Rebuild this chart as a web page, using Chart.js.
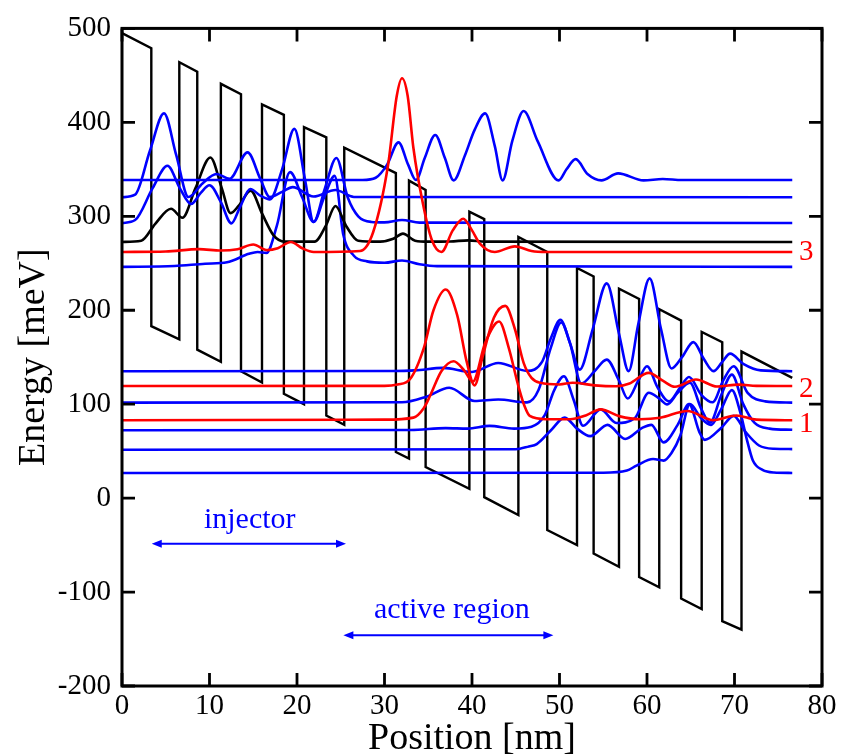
<!DOCTYPE html>
<html>
<head>
<meta charset="utf-8">
<title>Band diagram</title>
<script src="https://cdn.jsdelivr.net/npm/chart.js@4.4.0/dist/chart.umd.min.js"></script>
<style>
  html, body { margin: 0; padding: 0; background: #fff; }
  #wrap { width: 841px; height: 756px; }
</style>
</head>
<body>
<div id="wrap"><canvas id="bandChart" width="841" height="756"></canvas></div>
<script>
// ---- values (x: position in nm, y: energy in meV) ----
const xTicks = [0, 10, 20, 30, 40, 50, 60, 70, 80];
const yTicks = [-200, -100, 0, 100, 200, 300, 400, 500];

// conduction band edge
const bandX = [0, 3.35, 3.35, 6.55, 6.55, 8.6, 8.6, 11.3, 11.3, 13.6, 13.6, 16.0, 16.0, 18.5, 18.5, 20.8, 20.8, 23.35, 23.35, 25.4,
  25.4, 31.3, 31.3, 32.8, 32.8, 34.7, 34.7, 39.7, 39.7, 41.4, 41.4, 45.3, 45.3, 48.6, 48.6, 52.0, 52.0, 53.9, 53.9, 56.8,
  56.8, 59.1, 59.1, 61.4, 61.4, 63.9, 63.9, 66.25, 66.25, 68.6, 68.6, 70.8, 70.8, 76.6];
const bandE = [495, 479, 183, 169, 464, 454, 158, 145, 441, 430, 135, 123, 419, 408, 111, 100, 395, 384, 88, 78,
  373, 346, 49, 42, 338, 328, 33, 10, 305, 297, 1, -18, 278, 262, -34, -50, 245, 236, -59, -73,
  223, 212, -84, -95, 201, 189, -107, -118, 177, 166, -131, -140, 156, 128];

// |psi|^2 curves drawn on top of their level, [x, E]
const stateA = [[0,338.6],[27.5,338.6],[29,341],[30.3,355],[31.6,378.7],[32.7,355],[33.6,338.6],[34.6,362],[35.8,386.6],[36.9,362],
  [37.9,338.2],[39.2,365],[40.3,392],[41.5,409.5],[42.6,375],[43.5,338.2],[44.6,380],[45.9,412],[47.5,380],[49.9,338.2],
  [50.8,350],[51.85,360.8],[53.2,345],[54.8,338.2],[56.7,345.7],[59.6,338.2],[61.8,339.7],[64,338.6],[76.6,338.6]];
const stateB = [[0,320.3],[1.5,323],[3.2,370],[4.8,409.5],[6.2,365],[7.6,320.5],[9.2,335],[10.8,345],[12.3,340],[14.35,368],
  [15.8,340],[16.9,320.5],[18.3,326],[19.5,331],[21.9,321],[24.4,328],[26.5,320.6],[76.6,320.3]];
const stateC = [[0,292.8],[1.5,296],[3.5,330],[5.2,353.8],[6.6,330],[7.9,313],[9.0,325],[10.0,333],[11.3,315],[12.5,292.5],
  [13.5,310],[14.66,329],[15.8,322],[16.9,318],[18.3,350],[19.7,393],[20.9,340],[21.9,294],[23.2,330],[24.5,362],
  [25.8,320],[27,300],[28.5,294],[30,293.5],[32,296],[34,293.3],[76.6,292.8]];
const stateD = [[0,272.7],[2.2,274],[3.8,292],[5.6,308],[6.9,298.4],[8.4,330],[10.1,362.6],[11.4,330],[12.4,303.4],[13.4,312],
  [14.7,327.3],[16.0,303],[17.3,280],[18.6,273],[22,273],[23.3,290],[24.4,311],[25.6,290],[27,274],[29.5,273],
  [31,276],[32.1,281.5],[33.5,274],[35,273],[37.5,273.2],[39.6,274.4],[41.5,273],[76.6,272.7]];
const level3 = [[0,262],[5,262.5],[8.8,265],[11.3,263.5],[13.2,265],[15.0,270],[16.6,264],[17.8,266],[19.3,272.7],[20.6,266],
  [21.9,262],[27.2,263],[28.7,283],[30.4,354],[31.4,428],[32.0,447],[32.65,428],[33.3,373],[34.4,313],[35.4,275],
  [36.5,262],[37.8,285],[39.0,297.4],[40.0,285],[40.9,271],[42.6,262],[44.9,268],[46.8,263],[48.5,262],[76.6,262]];
const stateE = [[0,246.2],[6,247],[9.5,249.5],[12,251],[14.5,260],[15.5,262],[16.5,261],[17.7,290],[19.2,347],[20.6,320],
  [21.9,294],[23.1,320],[24.3,343],[25.3,280],[26.5,258],[28,252],[30,250.5],[32,253],[34,249],[36,247],[76.6,246.2]];
const stateF = [[0,135.1],[31,135.3],[33.5,136],[36.7,138.6],[40.0,134.3],[43.0,143.9],[46.3,135.4],[48.0,145],[49.0,170],[50.1,189.7],
  [51.2,165],[52.3,136.8],[53.8,180],[55.4,228.6],[56.8,175],[57.9,135.2],[59.0,185],[60.3,233.9],[61.6,180],[62.8,138],
  [64.0,150],[65.3,166.1],[66.5,148],[67.6,135.2],[68.6,145],[69.5,153.8],[71.0,143],[73,136],[76.6,135.1]];
const level2 = [[0,119.3],[30,119.5],[31.5,121],[32.9,126.5],[34.5,160],[35.6,200],[37.0,222],[38.3,195],[39.4,145],[40.3,120],
  [41.2,150],[42.5,192],[43.8,204.6],[44.9,180],[45.9,144],[46.8,128],[47.8,122.7],[50,121],[51.5,122.8],[54,120],
  [56.5,119],[58,122],[60.2,133.3],[61.8,125],[63.2,118.5],[65.6,126.2],[68,118.8],[70.5,120.8],[72.5,119.5],[76.6,119.3]];
const stateG = [[0,101.6],[32,102],[34.8,108],[37.4,117.5],[40.3,103.4],[43,105],[46.3,101.9],[47.6,115],[49.0,160],[50.2,187],
  [51.2,165],[52.5,122],[54,135],[55.4,147.4],[56.8,125],[57.8,106],[59.0,125],[60.0,140.4],[61.2,118],[62.5,103],
  [63.8,118],[64.8,129],[66.2,110],[67.5,102],[68.7,125],[69.9,140.4],[71.5,112],[73.5,103],[76.6,101.6]];
const level1 = [[0,82.9],[30,83.5],[33.3,85.7],[34.5,96],[35.2,108.7],[36.5,135],[37.9,145.7],[39.1,136],[40.1,124],[41.5,165],
  [43.1,188],[44.2,160],[45.3,119.3],[46.0,98],[46.6,87.5],[48.5,84],[51.2,83.9],[53,88],[54.7,94.5],[56.9,87],
  [59.2,84],[61.5,85.5],[64.6,92.8],[67.6,83],[70.2,88],[72.5,83.5],[76.6,82.9]];
const stateH = [[0,72.3],[33,72.5],[37,74.5],[39.5,74],[42,76.9],[44.8,74],[46.8,76],[48.3,88],[49.4,115],[50.5,129.8],
  [51.6,105],[52.7,77],[54.7,94.5],[56.5,80],[58.6,85],[60.2,112.2],[61.4,106],[62.3,99.8],[63.5,112],[64.9,122.8],
  [66.2,95],[67.2,80.4],[68.5,110],[69.7,131.5],[71.0,100],[72.3,80],[74,74],[76.6,72.7]];
const stateI = [[0,51.5],[45,52],[46.5,55],[47.4,57.5],[49.0,72],[50.6,85.7],[52.0,74],[53.5,66],[55.5,78],[57.5,63],
  [59.5,75],[60.5,78],[61.9,59.3],[63.5,78],[64.8,100],[66.0,70],[66.6,62],[68.5,75],[69.9,87.5],[71.3,70],
  [72.8,56],[74.5,52.5],[76.6,52.2]];
const stateJ = [[0,26.8],[55,27],[57.7,29.3],[58.8,34.6],[60.7,41.6],[61.9,39.9],[62.8,48],[63.8,66.3],[64.9,100],[66.2,85],
  [67.3,78],[68.5,95],[69.7,115],[70.7,90],[71.4,62.8],[72.1,40],[73.2,30],[74.5,27.2],[76.6,26.8]];

const BLUE = '#0000ff', RED = '#ff0000', BLACK = '#000000';
const SERIF = '"Liberation Serif", "Times New Roman", serif';

function pts(pairs) {
  return pairs.map(p => ({ x: p[0], y: p[1] }));
}

function curve(pairs, color) {
  return {
    data: pts(pairs),
    showLine: true,
    borderColor: color,
    borderWidth: 2.6,
    pointRadius: 0,
    fill: false,
    cubicInterpolationMode: 'monotone'
  };
}

const bandData = bandX.map((x, i) => ({ x: x, y: bandE[i] }));

const datasets = [
  curve(level3, RED), curve(level2, RED), curve(level1, RED),
  curve(stateA, BLUE), curve(stateB, BLUE), curve(stateC, BLUE), curve(stateD, BLACK),
  curve(stateE, BLUE), curve(stateF, BLUE), curve(stateG, BLUE), curve(stateH, BLUE),
  curve(stateI, BLUE), curve(stateJ, BLUE),
  { data: bandData, showLine: true, borderColor: BLACK, borderWidth: 2.4, pointRadius: 0, fill: false, tension: 0 }
];

// Frame, inward ticks, titles and labels
const decorations = {
  id: 'decorations',
  afterDraw(chart) {
    const { ctx, chartArea: a, scales: { x, y } } = chart;
    ctx.save();

    ctx.strokeStyle = BLACK;
    ctx.lineWidth = 2.8;
    const tl = 13;
    xTicks.forEach(v => {
      const px = x.getPixelForValue(v);
      ctx.beginPath();
      ctx.moveTo(px, a.bottom); ctx.lineTo(px, a.bottom - tl);
      ctx.moveTo(px, a.top); ctx.lineTo(px, a.top + tl);
      ctx.stroke();
    });
    yTicks.forEach(v => {
      const py = y.getPixelForValue(v);
      ctx.beginPath();
      ctx.moveTo(a.left, py); ctx.lineTo(a.left + tl, py);
      ctx.moveTo(a.right, py); ctx.lineTo(a.right - tl, py);
      ctx.stroke();
    });
    ctx.lineWidth = 3;
    ctx.strokeRect(a.left, a.top, a.right - a.left, a.bottom - a.top);

    // axis titles
    ctx.fillStyle = BLACK;
    ctx.font = '38px ' + SERIF;
    ctx.textAlign = 'center';
    ctx.textBaseline = 'alphabetic';
    ctx.fillText('Position [nm]', (a.left + a.right) / 2, 749);
    ctx.save();
    ctx.translate(44, (a.top + a.bottom) / 2);
    ctx.rotate(-Math.PI / 2);
    ctx.fillText('Energy [meV]', 0, 0);
    ctx.restore();

    // level labels
    ctx.fillStyle = RED;
    ctx.font = '29px ' + SERIF;
    ctx.textBaseline = 'middle';
    ctx.fillText('3', x.getPixelForValue(78.2), y.getPixelForValue(262));
    ctx.fillText('2', x.getPixelForValue(78.2), y.getPixelForValue(116));
    ctx.fillText('1', x.getPixelForValue(78.2), y.getPixelForValue(79));

    // region annotations
    ctx.fillStyle = BLUE;
    ctx.strokeStyle = BLUE;
    ctx.textBaseline = 'alphabetic';
    ctx.font = '30px ' + SERIF;
    ctx.fillText('injector', x.getPixelForValue(14.6), y.getPixelForValue(-32));
    ctx.fillText('active region', x.getPixelForValue(37.7), y.getPixelForValue(-128));
    arrow(ctx, x.getPixelForValue(3.4), x.getPixelForValue(25.6), y.getPixelForValue(-48.7));
    arrow(ctx, x.getPixelForValue(25.3), x.getPixelForValue(49.3), y.getPixelForValue(-146));

    ctx.restore();
  }
};

function arrow(ctx, x1, x2, py) {
  const hl = 10, hw = 4;
  ctx.lineWidth = 2;
  ctx.beginPath();
  ctx.moveTo(x1 + 4, py); ctx.lineTo(x2 - 4, py);
  ctx.stroke();
  ctx.beginPath();
  ctx.moveTo(x1, py); ctx.lineTo(x1 + hl, py - hw); ctx.lineTo(x1 + hl, py + hw); ctx.closePath();
  ctx.moveTo(x2, py); ctx.lineTo(x2 - hl, py - hw); ctx.lineTo(x2 - hl, py + hw); ctx.closePath();
  ctx.fill();
}

new Chart(document.getElementById('bandChart'), {
  type: 'scatter',
  data: { datasets: datasets },
  options: {
    responsive: false,
    animation: false,
    devicePixelRatio: 1,
    layout: { padding: { top: 24, right: 19, bottom: 0, left: 0 } },
    plugins: { legend: { display: false }, tooltip: { enabled: false } },
    scales: {
      x: {
        type: 'linear', min: 0, max: 80,
        afterFit: s => { s.height = 70; },
        afterBuildTicks: s => { s.ticks = xTicks.map(v => ({ value: v })); },
        grid: { display: false, drawTicks: false },
        border: { display: false },
        ticks: { font: { family: SERIF, size: 29 }, color: BLACK, padding: 3, maxRotation: 0 }
      },
      y: {
        type: 'linear', min: -200, max: 500,
        afterFit: s => { s.width = 122; },
        afterBuildTicks: s => { s.ticks = yTicks.map(v => ({ value: v })); },
        grid: { display: false, drawTicks: false },
        border: { display: false },
        ticks: { font: { family: SERIF, size: 29 }, color: BLACK, padding: 11 }
      }
    }
  },
  plugins: [decorations]
});
</script>
</body>
</html>
